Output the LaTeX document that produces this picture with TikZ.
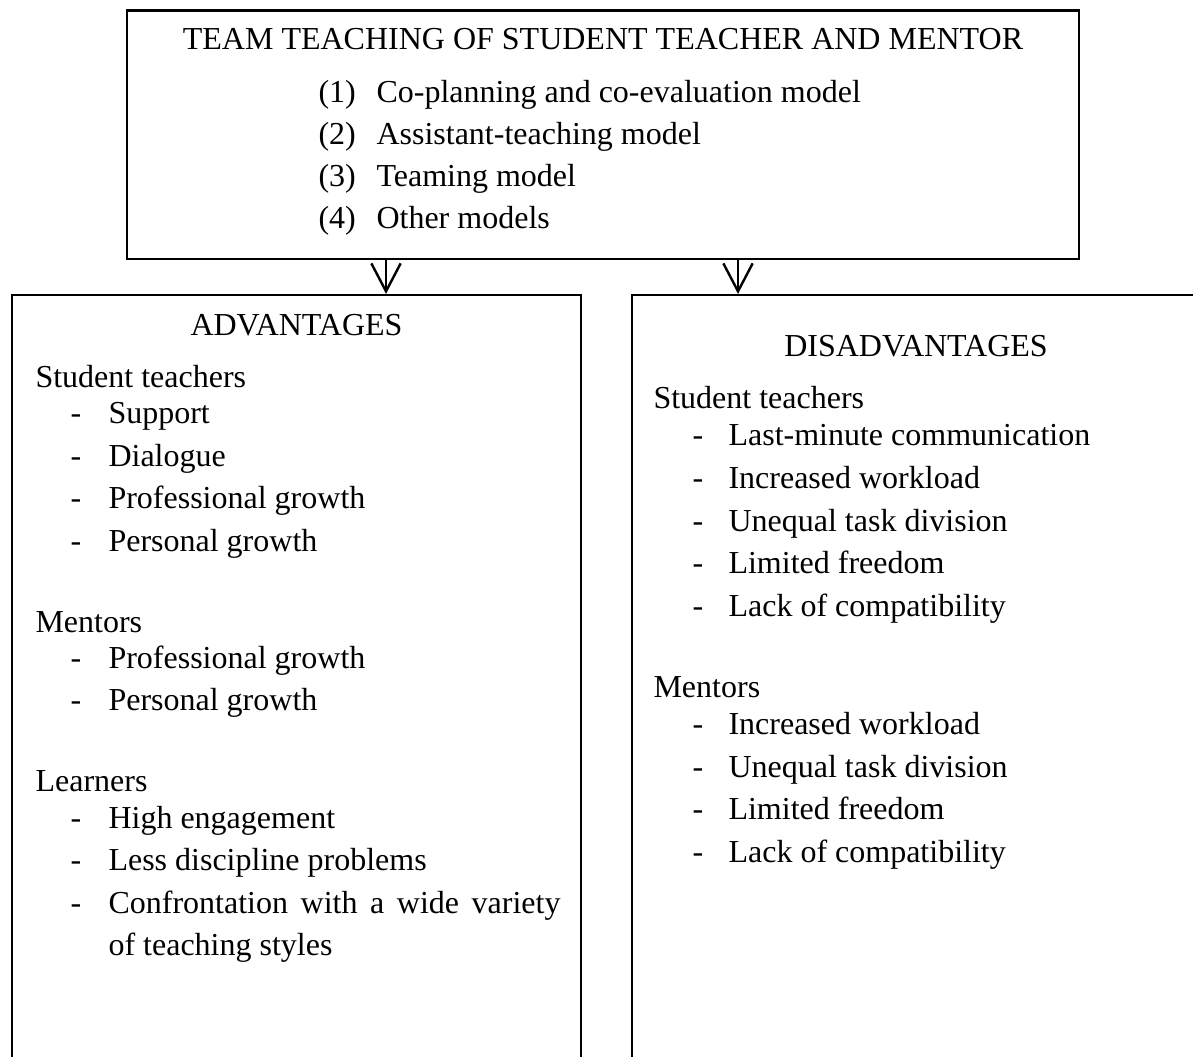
\documentclass[tikz,border=0pt]{standalone}
\usepackage{fontspec}
\setmainfont{Liberation Serif}
\usetikzlibrary{arrows.meta,fit}
\tikzset{
	box/.style={draw, line width=0.8pt, inner sep=0pt},
	txt/.style={anchor=base west, inner sep=0pt, font=\fontsize{12}{15.94}\selectfont},
	head/.style={anchor=base, inner sep=0pt, font=\fontsize{12}{15.94}\selectfont},
	arr/.style={line width=0.9pt, -{Straight Barb[length=10.5pt, width=11pt]}}
}

\begin{document}
\begin{tikzpicture}[x=0.375pt, y=-0.375pt]
			%%%%% START %%%%%
			
			\useasboundingbox (0, 0) rectangle (1193, 1057);
			\clip (0, 0) rectangle (1193, 1057);
			
			\node[box, fit={(127, 10.5) (1079, 259)}] (team) {};
			\node[box, fit={(12, 295) (581, 1090)}] (adv) {};
			\node[box, fit={(632, 295) (1200, 1090)}] (dis) {};
			
			\coordinate (ax) at (386, 0);
			\coordinate (bx) at (738, 0);
			\draw[arr] (team.south -| ax) -- (adv.north -| ax);
			\draw[arr] (team.south -| bx) -- (dis.north -| bx);
			
			% top box
			\node[head] (title) at (603, 50) {TEAM TEACHING OF STUDENT TEACHER AND MENTOR};
			\node[txt] (n1) at (318, 103) {(1)};
			\node[txt] (m1) at (376, 103) {Co-planning and co-evaluation model};
			\node[txt] (n2) at (318, 145) {(2)};
			\node[txt] (m2) at (376, 145) {Assistant-teaching model};
			\node[txt] (n3) at (318, 187) {(3)};
			\node[txt] (m3) at (376, 187) {Teaming model};
			\node[txt] (n4) at (318, 229) {(4)};
			\node[txt] (m4) at (376, 229) {Other models};
			
			% advantages
			\node[head] (advhead) at (296.5, 336) {ADVANTAGES};
			\node[txt] (ast) at (35, 388) {Student teachers};
			\node[txt] (ad1) at (70, 424) {-};
			\node[txt] (as1) at (108, 424) {Support};
			\node[txt] (ad2) at (70, 466.5) {-};
			\node[txt] (as2) at (108, 466.5) {Dialogue};
			\node[txt] (ad3) at (70, 509) {-};
			\node[txt] (as3) at (108, 509) {Professional growth};
			\node[txt] (ad4) at (70, 551.5) {-};
			\node[txt] (as4) at (108, 551.5) {Personal growth};
			
			\node[txt] (amt) at (35, 632) {Mentors};
			\node[txt] (ad5) at (70, 668) {-};
			\node[txt] (am1) at (108, 668) {Professional growth};
			\node[txt] (ad6) at (70, 710.5) {-};
			\node[txt] (am2) at (108, 710.5) {Personal growth};
			
			\node[txt] (alr) at (35, 791) {Learners};
			\node[txt] (ad7) at (70, 828) {-};
			\node[txt] (al1) at (108, 828) {High engagement};
			\node[txt] (ad8) at (70, 870.5) {-};
			\node[txt] (al2) at (108, 870.5) {Less discipline problems};
			\node[txt] (ad9) at (70, 913) {-};
			\node[txt] (al3) at (108, 913) {\makebox[169.5pt][s]{Confrontation with a wide variety}};
			\node[txt] (al4) at (108, 955) {of teaching styles};
			
			% disadvantages
			\node[head] (dishead) at (916, 357) {DISADVANTAGES};
			\node[txt] (dst) at (653, 409) {Student teachers};
			\node[txt] (dd1) at (692, 446) {-};
			\node[txt] (ds1) at (728, 446) {Last-minute communication};
			\node[txt] (dd2) at (692, 488.5) {-};
			\node[txt] (ds2) at (728, 488.5) {Increased workload};
			\node[txt] (dd3) at (692, 531) {-};
			\node[txt] (ds3) at (728, 531) {Unequal task division};
			\node[txt] (dd4) at (692, 573.5) {-};
			\node[txt] (ds4) at (728, 573.5) {Limited freedom};
			\node[txt] (dd5) at (692, 616) {-};
			\node[txt] (ds5) at (728, 616) {Lack of compatibility};
			
			\node[txt] (dmt) at (653, 697) {Mentors};
			\node[txt] (dd6) at (692, 734) {-};
			\node[txt] (dm1) at (728, 734) {Increased workload};
			\node[txt] (dd7) at (692, 777) {-};
			\node[txt] (dm2) at (728, 777) {Unequal task division};
			\node[txt] (dd8) at (692, 819) {-};
			\node[txt] (dm3) at (728, 819) {Limited freedom};
			\node[txt] (dd9) at (692, 862) {-};
			\node[txt] (dm4) at (728, 862) {Lack of compatibility};
			
			%%%%% END %%%%%
\end{tikzpicture}
\end{document}
